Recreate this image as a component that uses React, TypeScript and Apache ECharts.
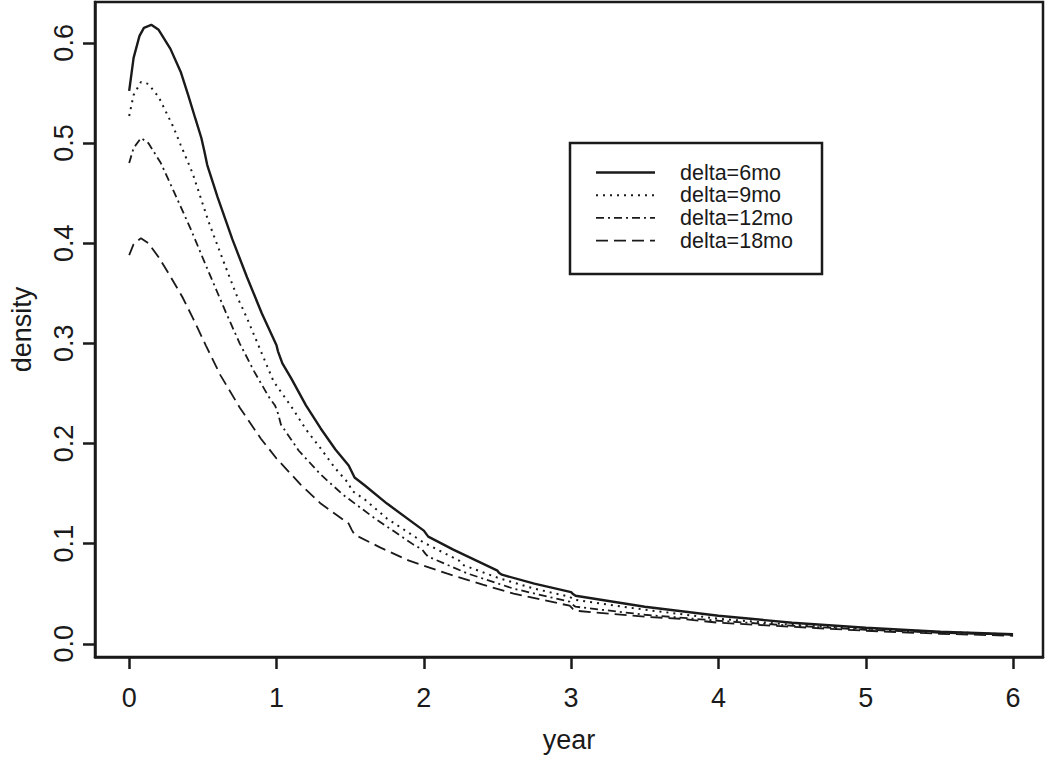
import React, { useEffect, useRef } from "react";
import * as echarts from "echarts";

// delta = 6 months (solid)
const x6 = [0, 0.03, 0.07, 0.1, 0.15, 0.2, 0.28, 0.35, 0.4, 0.45, 0.49, 0.51, 0.53, 0.6, 0.7, 0.8, 0.9, 1.0, 1.01, 1.04, 1.1, 1.2, 1.3, 1.4, 1.49, 1.51, 1.53, 1.6, 1.75, 2.0, 2.01, 2.03, 2.2, 2.5, 2.51, 2.53, 2.75, 3.0, 3.01, 3.03, 3.5, 4.0, 4.5, 5.0, 5.5, 6.0];
const y6 = [0.552, 0.585, 0.607, 0.615, 0.618, 0.613, 0.594, 0.571, 0.548, 0.524, 0.505, 0.492, 0.478, 0.446, 0.404, 0.366, 0.33, 0.298, 0.292, 0.28, 0.265, 0.238, 0.215, 0.194, 0.178, 0.172, 0.166, 0.158, 0.14, 0.113, 0.111, 0.107, 0.094, 0.073, 0.071, 0.069, 0.06, 0.0515, 0.05, 0.048, 0.037, 0.028, 0.021, 0.016, 0.012, 0.0095];

// delta = 9 months (dotted)
const x9 = [0, 0.03, 0.08, 0.13, 0.2, 0.3, 0.35, 0.43, 0.54, 0.65, 0.74, 0.76, 0.8, 0.9, 0.98, 1.1, 1.2, 1.3, 1.4, 1.49, 1.51, 1.6, 1.75, 2.0, 2.24, 2.26, 2.5, 2.75, 2.99, 3.02, 3.5, 4.0, 4.5, 5.0, 5.5, 6.0];
const y9 = [0.527, 0.548, 0.561, 0.559, 0.546, 0.516, 0.498, 0.47, 0.421, 0.378, 0.344, 0.338, 0.325, 0.29, 0.262, 0.237, 0.214, 0.195, 0.175, 0.16, 0.153, 0.144, 0.125, 0.101, 0.083, 0.079, 0.066, 0.055, 0.047, 0.044, 0.034, 0.025, 0.019, 0.015, 0.012, 0.0092];

// delta = 12 months (dash-dot)
const x12 = [0, 0.03, 0.08, 0.13, 0.215, 0.305, 0.418, 0.52, 0.656, 0.75, 0.848, 0.95, 0.99, 1.01, 1.03, 1.15, 1.3, 1.45, 1.66, 1.8, 1.93, 1.99, 2.01, 2.03, 2.3, 2.61, 2.99, 3.01, 3.03, 3.5, 4.0, 4.5, 5.0, 5.5, 6.0];
const y12 = [0.48, 0.495, 0.505, 0.5, 0.48, 0.451, 0.414, 0.378, 0.331, 0.3, 0.272, 0.246, 0.238, 0.23, 0.219, 0.193, 0.169, 0.149, 0.126, 0.112, 0.099, 0.094, 0.09, 0.087, 0.07, 0.055, 0.042, 0.039, 0.037, 0.029, 0.023, 0.018, 0.014, 0.011, 0.009];

// delta = 18 months (dashed)
const x18 = [0, 0.03, 0.08, 0.13, 0.2, 0.283, 0.362, 0.43, 0.52, 0.62, 0.75, 0.893, 1.0, 1.164, 1.3, 1.49, 1.51, 1.53, 1.706, 1.9, 2.16, 2.4, 2.61, 2.99, 3.01, 3.03, 3.5, 3.74, 4.0, 4.5, 5.0, 5.5, 6.0];
const y18 = [0.388, 0.399, 0.405, 0.4, 0.386, 0.366, 0.346, 0.326, 0.298, 0.268, 0.236, 0.205, 0.185, 0.159, 0.14, 0.12, 0.114, 0.109, 0.096, 0.083, 0.07, 0.059, 0.05, 0.038, 0.035, 0.033, 0.027, 0.025, 0.021, 0.017, 0.013, 0.01, 0.008];

const xTicks = [0, 1, 2, 3, 4, 5, 6];
const yTicks = [0, 0.1, 0.2, 0.3, 0.4, 0.5, 0.6];
const legendLabels = ["delta=6mo", "delta=9mo", "delta=12mo", "delta=18mo"];

const FONT = "'Liberation Sans', Arial, Helvetica, sans-serif";
const INK = "#1a1a1a";

const pair = (xs: number[], ys: number[]) => xs.map((x, i) => [x, ys[i]]);

export default function App() {
  const ref = useRef<HTMLDivElement>(null);
  useEffect(() => {
    if (!ref.current) return;
    const chart = echarts.init(ref.current, null, { renderer: "svg" });
    const dashes: (number[] | "solid")[] = ["solid", [2, 5], [8, 4, 2, 4], [12, 6]];
    const widths = [2.4, 2, 1.8, 1.8];
    const series = [pair(x6, y6), pair(x9, y9), pair(x12, y12), pair(x18, y18)].map((d, i) => ({
      type: "line",
      name: legendLabels[i],
      data: d,
      showSymbol: false,
      symbol: "none",
      smooth: false,
      lineStyle: { color: INK, width: widths[i], type: dashes[i] },
    }));
    const rowY = [172.5, 195.2, 217.9, 240.6];
    const graphics: any[] = [
      {
        type: "rect",
        shape: { x: 570, y: 143, width: 252, height: 131 },
        style: { fill: "#fff", stroke: INK, lineWidth: 2.5 },
        z: 10,
      },
    ];
    rowY.forEach((y, i) => {
      graphics.push({
        type: "line",
        shape: { x1: 596, y1: y, x2: 655, y2: y },
        style: {
          stroke: INK,
          lineWidth: widths[i],
          lineDash: dashes[i] === "solid" ? null : dashes[i],
        },
        z: 11,
      });
      graphics.push({
        type: "text",
        x: 680,
        y: y,
        style: {
          text: legendLabels[i],
          font: `21.5px ${FONT}`,
          lineHeight: 20,
          fill: INK,
          verticalAlign: "middle",
          align: "left",
        },
        z: 11,
      });
    });
    chart.setOption({
      animation: false,
      backgroundColor: "#fff",
      grid: {
        left: 94,
        right: 7,
        top: 2,
        bottom: 98,
        show: true,
        borderColor: INK,
        borderWidth: 2.5,
        containLabel: false,
      },
      xAxis: {
        type: "value",
        min: -0.232,
        max: 6.203,
        name: "year",
        nameLocation: "middle",
        nameGap: 69,
        nameTextStyle: { fontFamily: FONT, fontSize: 27, color: INK },
        splitLine: { show: false },
        axisLine: { show: true, onZero: false, lineStyle: { color: INK, width: 2.5 } },
        axisTick: { show: true, length: 12, customValues: xTicks, lineStyle: { color: INK, width: 2.5 } },
        axisLabel: {
          customValues: xTicks,
          margin: 27,
          fontFamily: FONT,
          fontSize: 27,
          color: INK,
          formatter: (v: number) => String(Math.round(v)),
        },
      },
      yAxis: {
        type: "value",
        min: -0.0132,
        max: 0.6408,
        name: "density",
        nameLocation: "middle",
        nameRotate: 90,
        nameGap: 60,
        nameTextStyle: { fontFamily: FONT, fontSize: 27, color: INK },
        splitLine: { show: false },
        axisLine: { show: true, onZero: false, lineStyle: { color: INK, width: 2.5 } },
        axisTick: { show: true, length: 12, customValues: yTicks, lineStyle: { color: INK, width: 2.5 } },
        axisLabel: {
          customValues: yTicks,
          rotate: 90,
          margin: 18,
          fontFamily: FONT,
          fontSize: 27,
          color: INK,
          formatter: (v: number) => v.toFixed(1),
        },
      },
      series,
      graphic: graphics,
    });
    return () => chart.dispose();
  }, []);
  return (
    <div
      ref={ref}
      style={{ position: "fixed", left: 0, top: 0, width: 1050, height: 758, background: "#fff" }}
    />
  );
}
